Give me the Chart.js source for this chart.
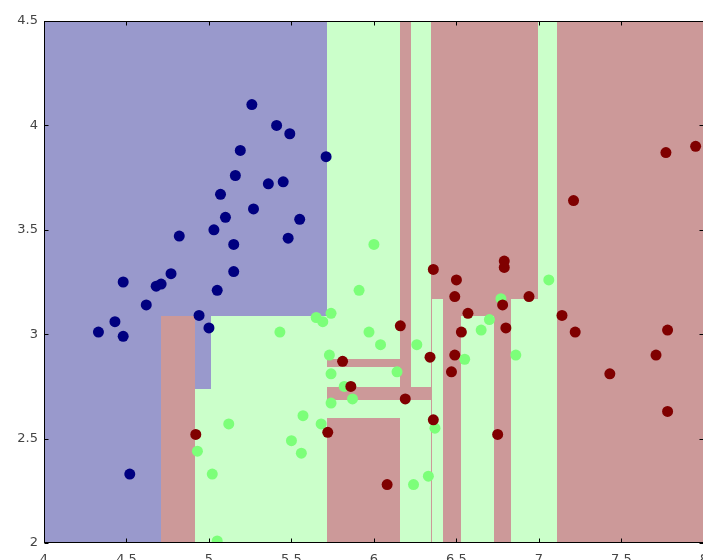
<!DOCTYPE html>
<html>
<head>
<meta charset="utf-8">
<script src="https://cdn.jsdelivr.net/npm/chart.js@4.4.1/dist/chart.umd.min.js"></script>
<style>
  html, body { margin: 0; padding: 0; background: #fff; overflow: hidden; }
  #wrap { width: 717px; height: 560px; }
</style>
</head>
<body>
<div id="wrap"><canvas id="treeChart" width="717" height="560"></canvas></div>
<script>
// axis ticks
const xTicks = [4, 4.5, 5, 5.5, 6, 6.5, 7, 7.5, 8];
const yTicks = [2, 2.5, 3, 3.5, 4, 4.5];

// samples: [sepal length, sepal width]
const setosaPts = [
  [5.26, 4.10], [5.41, 4.00], [5.49, 3.96], [5.19, 3.88], [5.71, 3.85],
  [5.16, 3.76], [5.36, 3.72], [5.45, 3.73], [5.07, 3.67], [5.10, 3.56],
  [5.27, 3.60], [5.55, 3.55], [4.82, 3.47], [5.03, 3.50], [5.15, 3.43],
  [5.48, 3.46], [5.15, 3.30], [4.77, 3.29], [4.48, 3.25], [4.68, 3.23],
  [4.71, 3.24], [5.05, 3.21], [4.62, 3.14], [4.94, 3.09], [4.43, 3.06],
  [4.33, 3.01], [5.00, 3.03], [4.48, 2.99], [4.52, 2.33],
];
const versicolorPts = [
  [6.00, 3.43], [5.91, 3.21], [5.74, 3.10], [5.65, 3.08], [5.69, 3.06],
  [5.43, 3.01], [5.97, 3.01], [6.04, 2.95], [6.26, 2.95], [5.73, 2.90],
  [5.74, 2.81], [6.14, 2.82], [5.82, 2.75], [5.87, 2.69], [5.74, 2.67],
  [5.57, 2.61], [5.68, 2.57], [5.12, 2.57], [5.50, 2.49], [5.56, 2.43],
  [4.93, 2.44], [5.02, 2.33], [5.05, 2.01], [6.37, 2.55], [6.33, 2.32],
  [6.24, 2.28], [7.06, 3.26], [6.77, 3.17], [6.70, 3.07], [6.65, 3.02],
  [6.55, 2.88], [6.86, 2.90],
];
const virginicaPts = [
  [7.95, 3.90], [7.77, 3.87], [7.21, 3.64], [6.36, 3.31], [6.50, 3.26],
  [6.79, 3.35], [6.79, 3.32], [6.49, 3.18], [6.94, 3.18], [6.78, 3.14],
  [6.57, 3.10], [7.14, 3.09], [6.16, 3.04], [6.53, 3.01], [6.80, 3.03],
  [7.22, 3.01], [7.78, 3.02], [5.81, 2.87], [6.34, 2.89], [6.49, 2.90],
  [7.71, 2.90], [6.47, 2.82], [7.43, 2.81], [5.86, 2.75], [6.19, 2.69],
  [7.78, 2.63], [6.36, 2.59], [5.72, 2.53], [6.75, 2.52], [4.92, 2.52],
  [6.08, 2.28],
];

// decision regions: [x0, x1, y0, y1]
const setosaCells = [
  [4.000, 4.712, 2.000, 4.500],
  [4.712, 5.717, 3.088, 4.500],
  [4.918, 5.013, 2.738, 3.088],
];
const versicolorCells = [
  [4.918, 5.013, 2.000, 2.738],
  [5.013, 5.717, 2.000, 3.088],
  [5.717, 6.159, 2.881, 4.500],
  [5.717, 6.159, 2.745, 2.845],
  [5.717, 6.159, 2.601, 2.686],
  [6.159, 6.345, 2.000, 2.686],
  [6.223, 6.345, 2.745, 4.500],
  [6.355, 6.421, 2.000, 3.169],
  [6.527, 6.728, 2.000, 3.088],
  [6.831, 6.995, 2.000, 3.169],
  [6.995, 7.110, 2.000, 4.500],
];
const virginicaCells = [
  [4.712, 4.918, 2.000, 3.088],
  [5.717, 6.159, 2.845, 2.881],
  [5.717, 6.345, 2.686, 2.745],
  [5.717, 6.159, 2.000, 2.601],
  [6.159, 6.223, 2.686, 4.500],
  [6.345, 6.355, 2.000, 4.500],
  [6.355, 6.421, 3.169, 4.500],
  [6.421, 6.527, 2.000, 4.500],
  [6.527, 6.728, 3.088, 4.500],
  [6.728, 6.831, 2.000, 4.500],
  [6.831, 6.995, 3.169, 4.500],
  [7.110, 8.000, 2.000, 4.500],
];

const toXY = (pts) => pts.map(([x, y]) => ({ x, y }));

// filled background regions
const regionPlugin = {
  id: "regions",
  beforeDatasetsDraw(chart) {
    const { ctx, chartArea, scales } = chart;
    const layers = [
      [setosaCells, "#9999cc"],
      [versicolorCells, "#cbffca"],
      [virginicaCells, "#cc9999"],
    ];
    ctx.save();
    ctx.beginPath();
    ctx.rect(chartArea.left, chartArea.top, chartArea.right - chartArea.left, chartArea.bottom - chartArea.top);
    ctx.clip();
    layers.forEach(([cells, color]) => {
      ctx.fillStyle = color;
      cells.forEach(([x0, x1, y0, y1]) => {
        const l = Math.round(scales.x.getPixelForValue(x0));
        const r = Math.round(scales.x.getPixelForValue(x1));
        const t = Math.round(scales.y.getPixelForValue(y1));
        const b = Math.round(scales.y.getPixelForValue(y0));
        ctx.fillRect(l, t, r - l, b - t);
      });
    });
    ctx.restore();
  },
};

// frame with inward ticks on every side
const framePlugin = {
  id: "frame",
  afterDraw(chart) {
    const { ctx, chartArea, scales } = chart;
    const L = Math.round(chartArea.left) + 0.5;
    const R = Math.round(chartArea.right) - 0.5;
    const T = Math.round(chartArea.top) + 0.5;
    const B = Math.round(chartArea.bottom) - 0.5;
    const len = 4;
    ctx.save();
    ctx.strokeStyle = "#000";
    ctx.lineWidth = 1;
    ctx.strokeRect(L, T, R - L, B - T);
    ctx.beginPath();
    xTicks.forEach((v) => {
      const px = Math.round(scales.x.getPixelForValue(v)) + 0.5;
      ctx.moveTo(px, B); ctx.lineTo(px, B - len);
      ctx.moveTo(px, T); ctx.lineTo(px, T + len);
    });
    yTicks.forEach((v) => {
      const py = Math.round(scales.y.getPixelForValue(v)) + 0.5;
      ctx.moveTo(L, py); ctx.lineTo(L + len, py);
      ctx.moveTo(R, py); ctx.lineTo(R - len, py);
    });
    ctx.stroke();
    ctx.restore();
  },
};

const tickFont = { family: "DejaVu Sans", size: 13 };
const plainLabel = (v) => String(v);

new Chart(document.getElementById("treeChart").getContext("2d"), {
  type: "scatter",
  data: {
    datasets: [
      { label: "setosa", data: toXY(setosaPts), backgroundColor: "#000080", order: 3 },
      { label: "versicolor", data: toXY(versicolorPts), backgroundColor: "#7cff79", order: 2 },
      { label: "virginica", data: toXY(virginicaPts), backgroundColor: "#800000", order: 1 },
    ],
  },
  options: {
    responsive: false,
    animation: false,
    layout: { padding: { left: 0, top: 21, right: 5, bottom: 0 } },
    elements: {
      point: { radius: 5.5, borderWidth: 0, hoverRadius: 5.5 },
    },
    scales: {
      x: {
        type: "linear",
        min: 4,
        max: 8,
        afterBuildTicks: (scale) => { scale.ticks = xTicks.map((v) => ({ value: v })); },
        afterFit: (scale) => { scale.height = 17; },
        grid: { display: false, drawTicks: false },
        border: { display: false },
        ticks: { color: "#444", font: tickFont, padding: 9, maxRotation: 0, callback: plainLabel },
      },
      y: {
        type: "linear",
        min: 2,
        max: 4.5,
        afterBuildTicks: (scale) => { scale.ticks = yTicks.map((v) => ({ value: v })); },
        afterFit: (scale) => { scale.width = 44; },
        grid: { display: false, drawTicks: false },
        border: { display: false },
        ticks: { color: "#444", font: tickFont, padding: 6, callback: plainLabel },
      },
    },
    plugins: {
      legend: { display: false },
      tooltip: { enabled: false },
    },
  },
  plugins: [regionPlugin, framePlugin],
});
</script>
</body>
</html>
